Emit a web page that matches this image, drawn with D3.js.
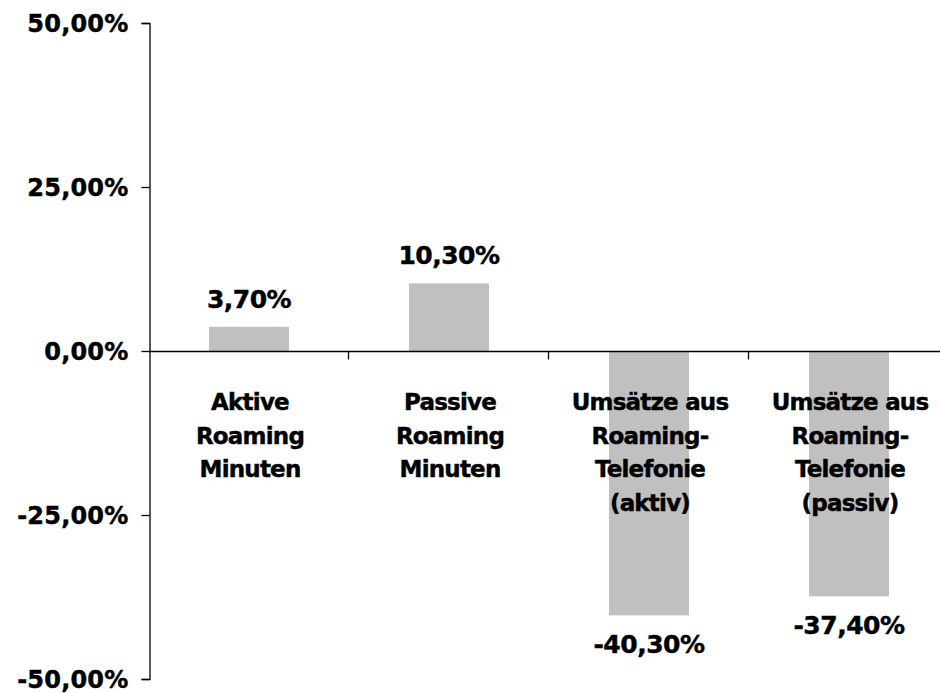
<!DOCTYPE html>
<html>
<head>
<meta charset="utf-8">
<script src="https://cdn.jsdelivr.net/npm/d3@7"></script>
<style>
  html, body { margin: 0; padding: 0; background: #fff; }
  svg { display: block; }
  text { font-family: "DejaVu Sans", Verdana, sans-serif; font-weight: bold; fill: #000; stroke: #000; stroke-width: 0.45px; }
</style>
</head>
<body>
<svg id="chart" width="940" height="693"></svg>
<script>
// Veränderung Roaming (in Prozent)
const categories = [
  ["Aktive", "Roaming", "Minuten"],
  ["Passive", "Roaming", "Minuten"],
  ["Umsätze aus", "Roaming-", "Telefonie", "(aktiv)"],
  ["Umsätze aus", "Roaming-", "Telefonie", "(passiv)"]
];
const values = [3.7, 10.3, -40.3, -37.4];
const yTicks = [50, 25, 0, -25, -50];

const de = d3.formatLocale({ decimal: ",", thousands: ".", grouping: [3], currency: ["", " €"], minus: "-" });
const pct = de.format(".2%");

const svg = d3.select("#chart");

const x = d3.scaleBand()
  .domain(d3.range(categories.length))
  .range([149, 949])
  .paddingInner(0.6)
  .paddingOuter(0.3);

const y = d3.scaleLinear()
  .domain([-50, 50])
  .range([679, 23]);

// Balken
svg.append("g")
  .selectAll("rect")
  .data(values)
  .join("rect")
  .attr("x", (d, i) => x(i))
  .attr("width", x.bandwidth())
  .attr("y", d => y(Math.max(0, d)))
  .attr("height", d => Math.abs(y(d) - y(0)))
  .attr("fill", "#c0c0c0");

// Y-Achse
const yAxis = svg.append("g")
  .attr("transform", "translate(149.5,0)")
  .call(d3.axisLeft(y).tickValues(yTicks).tickSize(8).tickPadding(13).tickFormat(d => pct(d / 100)));
yAxis.select(".domain").attr("stroke", "#000").attr("stroke-width", 1.3);
yAxis.selectAll(".tick line").attr("stroke", "#000").attr("stroke-width", 1.3);
yAxis.selectAll(".tick text")
  .attr("font-size", 24)
  .attr("letter-spacing", 0.2)
  .attr("dy", "0.36em")
  .style("font-family", "DejaVu Sans, Verdana, sans-serif")
  .style("font-weight", "bold")
  .attr("fill", "#000");

// Kategorie-Achse bei 0 %
const step = x.step();
const boundaries = d3.range(1, categories.length + 1).map(i => x(i - 1) - x.paddingOuter() * step + step);
const xAxis = svg.append("g").attr("transform", `translate(0,${y(0) + 0.5})`);
xAxis.append("line")
  .attr("x1", 149).attr("x2", 949)
  .attr("stroke", "#000").attr("stroke-width", 1.3);
xAxis.selectAll("line.tick")
  .data(boundaries)
  .join("line")
  .attr("class", "tick")
  .attr("x1", d => Math.round(d) - 0.5).attr("x2", d => Math.round(d) - 0.5)
  .attr("y1", 0).attr("y2", 8)
  .attr("stroke", "#000").attr("stroke-width", 1.3);

// Kategoriebeschriftung
const lineHeight = 33.5;
svg.append("g")
  .selectAll("text")
  .data(categories)
  .join("text")
  .attr("text-anchor", "middle")
  .attr("font-size", 23)
  .attr("letter-spacing", -0.8)
  .attr("transform", (d, i) => `translate(${x(i) + x.bandwidth() / 2 + 1},410)`)
  .selectAll("tspan")
  .data(d => d)
  .join("tspan")
  .attr("x", 0)
  .attr("y", (d, j) => j * lineHeight)
  .text(d => d);

// Wertbeschriftung
svg.append("g")
  .selectAll("text")
  .data(values)
  .join("text")
  .attr("text-anchor", "middle")
  .attr("font-size", 25)
  .attr("letter-spacing", -0.5)
  .attr("x", (d, i) => x(i) + x.bandwidth() / 2)
  .attr("y", d => d >= 0 ? y(d) - 19 : y(d) + 38)
  .text(d => pct(d / 100));
</script>
</body>
</html>
